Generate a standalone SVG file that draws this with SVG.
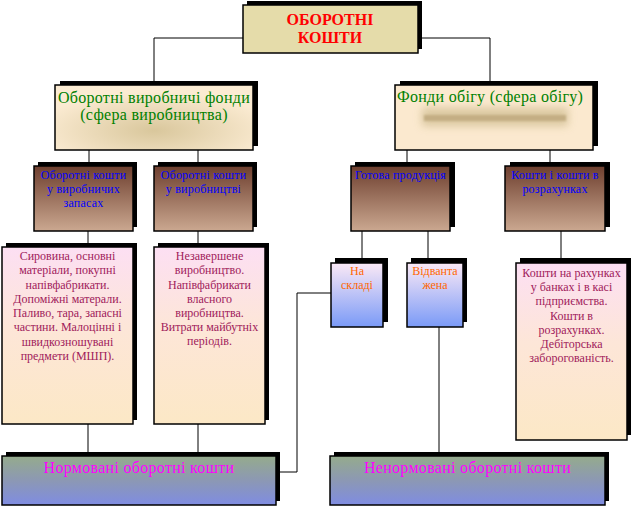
<svg xmlns="http://www.w3.org/2000/svg" width="631" height="506" viewBox="0 0 631 506">
<defs>
<linearGradient id="gBrown" x1="0" y1="0" x2="0" y2="1">
<stop offset="0" stop-color="#6E3F2F"/><stop offset="1" stop-color="#CBA890"/>
</linearGradient>
<linearGradient id="gPeach" x1="0" y1="0" x2="0" y2="1">
<stop offset="0" stop-color="#FCDFF3"/><stop offset="0.45" stop-color="#FDE6D8"/><stop offset="1" stop-color="#FCE8C6"/>
</linearGradient>
<linearGradient id="gBlue" x1="0" y1="0" x2="0" y2="1">
<stop offset="0" stop-color="#FBE9F6"/><stop offset="1" stop-color="#7A9AF7"/>
</linearGradient>
<linearGradient id="gBar" x1="0" y1="0" x2="0" y2="1">
<stop offset="0" stop-color="#95AB8C"/><stop offset="0.5" stop-color="#8C98B4"/><stop offset="1" stop-color="#7F8CE2"/>
</linearGradient>
<radialGradient id="gFundL" cx="0.5" cy="0.7" r="0.6">
<stop offset="0" stop-color="#D9C79C"/><stop offset="1" stop-color="#FBEBD2"/>
</radialGradient>
<filter id="blur" x="-30%" y="-200%" width="160%" height="500%"><feGaussianBlur stdDeviation="4"/></filter>
<filter id="blur2" x="-10%" y="-100%" width="120%" height="300%"><feGaussianBlur stdDeviation="1.2"/></filter>
<style>
.sh{fill:#000}
.bx{stroke:#000;stroke-width:1.5}
.con path{fill:none;stroke:#000;stroke-width:1}
text{font-family:"Liberation Serif","Times New Roman",serif;text-anchor:middle}
.t1{font-size:16px;font-weight:bold;fill:#FF0000}
.t2{font-size:16px;fill:#008000;letter-spacing:0.3px}
.t3{font-size:12px;fill:#0000FF;letter-spacing:0.2px}
.t4{font-size:12px;fill:#A0205A}
.t5{font-size:12px;fill:#FF6600}
.t6{font-size:16px;fill:#FF00FF;letter-spacing:0.3px}
</style>
</defs>
<rect width="631" height="506" fill="#fff"/>

<g id="connectors" class="con">
<path d="M154,85 V38 H243"/>
<path d="M418,38 H490 V85"/>
<path d="M89,150 V162"/>
<path d="M198,150 V162"/>
<path d="M407,150 V162"/>
<path d="M550,150 V162"/>
<path d="M88,231 V243"/>
<path d="M198,231 V243"/>
<path d="M362,231 V258"/>
<path d="M428,231 V258"/>
<path d="M561,231 V258"/>
<path d="M88,424 V452"/>
<path d="M198,424 V452"/>
<path d="M439,327 V452"/>
<path d="M331,293 H297 V472 H280"/>
</g>

<g id="top">
<rect class="sh" x="247" y="1" width="175" height="48"/>
<rect class="bx" x="243" y="5" width="175" height="48" fill="#E5DCAA"/>
<text class="t1" x="330" y="25">ОБОРОТНІ</text>
<text class="t1" x="330" y="43">КОШТИ</text>
</g>

<g id="fundL">
<rect class="sh" x="60" y="81" width="198" height="65"/>
<rect class="bx" x="55" y="85" width="198" height="65" fill="url(#gFundL)"/>
<text class="t2" x="154" y="103">Оборотні виробничі фонди</text>
<text class="t2" x="154" y="120">(сфера виробництва)</text>
</g>

<g id="fundR">
<rect class="sh" x="400" y="81" width="198" height="65"/>
<rect class="bx" x="395" y="85" width="198" height="65" fill="#FBE9CF"/>
<rect x="422" y="108" width="146" height="18" fill="#D6C39A" filter="url(#blur)" opacity="0.9"/>
<rect x="424" y="115" width="142" height="6" fill="#C4AE84" filter="url(#blur2)"/>
<text class="t2" x="397" y="102" style="text-anchor:start">Фонди обігу (сфера обігу)</text>
</g>

<g id="boxA">
<rect class="sh" x="38" y="162" width="99" height="65"/>
<rect class="bx" x="34" y="166" width="99" height="65" fill="url(#gBrown)"/>
<text class="t3" x="83.5" y="179">Оборотні кошти</text>
<text class="t3" x="83.5" y="193">у виробничих</text>
<text class="t3" x="83.5" y="207">запасах</text>
</g>

<g id="boxB">
<rect class="sh" x="158" y="162" width="99" height="65"/>
<rect class="bx" x="154" y="166" width="99" height="65" fill="url(#gBrown)"/>
<text class="t3" x="203.5" y="179">Оборотні кошти</text>
<text class="t3" x="203.5" y="193">у виробництві</text>
</g>

<g id="boxC">
<rect class="sh" x="355" y="162" width="100" height="65"/>
<rect class="bx" x="351" y="166" width="99" height="65" fill="url(#gBrown)"/>
<text class="t3" x="400.5" y="179">Готова продукція</text>
</g>

<g id="boxD">
<rect class="sh" x="510" y="162" width="100" height="65"/>
<rect class="bx" x="505" y="166" width="100" height="65" fill="url(#gBrown)"/>
<text class="t3" x="555" y="179">Кошти і кошти в</text>
<text class="t3" x="555" y="193">розрахунках</text>
</g>

<g id="boxE">
<rect class="sh" x="6" y="243" width="131" height="177"/>
<rect class="bx" x="2" y="247" width="131" height="177" fill="url(#gPeach)"/>
<text class="t4" x="67.5" y="260">Сировина, основні</text>
<text class="t4" x="67.5" y="274">матеріали, покупні</text>
<text class="t4" x="67.5" y="288.5">напівфабрикати.</text>
<text class="t4" x="67.5" y="303">Допоміжні матерали.</text>
<text class="t4" x="67.5" y="317">Паливо, тара, запасні</text>
<text class="t4" x="67.5" y="331">частини. Малоцінні і</text>
<text class="t4" x="67.5" y="346">швидкозношувані</text>
<text class="t4" x="67.5" y="360">предмети (МШП).</text>
</g>

<g id="boxF">
<rect class="sh" x="158" y="243" width="111" height="177"/>
<rect class="bx" x="154" y="247" width="111" height="177" fill="url(#gPeach)"/>
<text class="t4" x="209.5" y="260">Незавершене</text>
<text class="t4" x="209.5" y="274">виробництво.</text>
<text class="t4" x="209.5" y="288.5">Напівфабрикати</text>
<text class="t4" x="209.5" y="303">власного</text>
<text class="t4" x="209.5" y="317">виробництва.</text>
<text class="t4" x="209.5" y="331">Витрати майбутніх</text>
<text class="t4" x="209.5" y="345">періодів.</text>
</g>

<g id="boxG">
<rect class="sh" x="335" y="258" width="53" height="64"/>
<rect class="bx" x="331" y="263" width="52" height="64" fill="url(#gBlue)"/>
<text class="t5" x="357" y="275">На</text>
<text class="t5" x="357" y="289">складі</text>
</g>

<g id="boxH">
<rect class="sh" x="411" y="258" width="56" height="64"/>
<rect class="bx" x="407" y="263" width="56" height="64" fill="url(#gBlue)"/>
<text class="t5" x="435" y="275">Відванта</text>
<text class="t5" x="435" y="289">жена</text>
</g>

<g id="boxI">
<rect class="sh" x="520" y="258" width="111" height="177"/>
<rect class="bx" x="516" y="263" width="111" height="177" fill="url(#gPeach)"/>
<text class="t4" x="571.5" y="277">Кошти на рахунках</text>
<text class="t4" x="571.5" y="291">у банках і в касі</text>
<text class="t4" x="571.5" y="305">підприємства.</text>
<text class="t4" x="571.5" y="319.5">Кошти в</text>
<text class="t4" x="571.5" y="334">розрахунках.</text>
<text class="t4" x="571.5" y="348">Дебіторська</text>
<text class="t4" x="571.5" y="362">заборогованість.</text>
</g>

<g id="boxJ">
<rect class="sh" x="6" y="452" width="274" height="49"/>
<rect class="bx" x="2" y="456" width="274" height="49" fill="url(#gBar)"/>
<text class="t6" x="139" y="473">Нормовані оборотні кошти</text>
</g>

<g id="boxK">
<rect class="sh" x="334" y="452" width="275" height="49"/>
<rect class="bx" x="330" y="456" width="275" height="49" fill="url(#gBar)"/>
<text class="t6" x="467.5" y="473">Ненормовані оборотні кошти</text>
</g>
</svg>
